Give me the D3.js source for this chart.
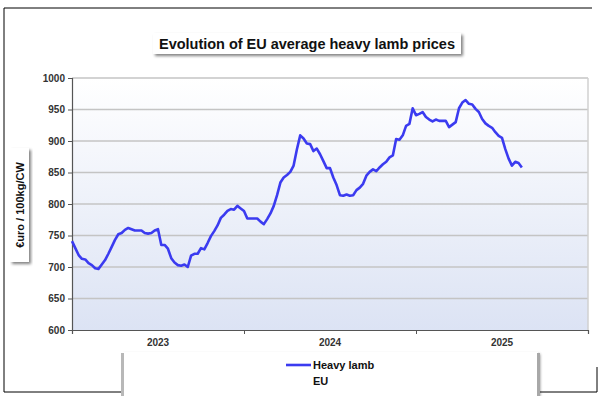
<!DOCTYPE html>
<html><head><meta charset="utf-8">
<script src="https://cdn.jsdelivr.net/npm/d3@7/dist/d3.min.js"></script>
<style>body{margin:0;background:#fff}svg{display:block;font-family:Arial,"Liberation Sans",sans-serif}</style>
</head><body>
<svg id="c" width="600" height="396"></svg>
<script>
const title = "Evolution of EU average heavy lamb prices";
const yLabel = "€uro / 100kg/CW";
const years = ["2023", "2024", "2025"];
const yTicks = [600, 650, 700, 750, 800, 850, 900, 950, 1000];
const seriesName = ["Heavy lamb", "EU"];
// weekly prices (week index from the start of the axis)
const prices = [741,730,719,713,712,706,703,698,697,704,711,721,732,743,752,754,759,762,760,758,
758,758,754,753,754,758,760,735,735,729,714,707,703,702,704,700,718,721,721,730,
728,738,749,757,766,778,783,789,792,791,797,793,789,777,777,777,777,772,768,776,
785,797,814,834,842,846,851,861,887,909,904,896,895,884,888,879,868,857,857,842,
830,814,813,815,813,814,822,826,832,845,851,855,852,858,863,867,874,877,903,902,
909,924,927,952,941,943,946,938,934,931,934,932,932,932,922,926,930,952,961,965,
959,958,951,946,935,928,924,921,914,908,905,887,872,861,867,865,858];
const weeksPerYear = 52;

const svg = d3.select("#c");
const defs = svg.append("defs");
const grad = defs.append("linearGradient").attr("id","bg").attr("x1",0).attr("y1",0).attr("x2",0).attr("y2",1);
grad.append("stop").attr("offset","0%").attr("stop-color","#ffffff");
grad.append("stop").attr("offset","100%").attr("stop-color","#dce3f4");
const sh = defs.append("filter").attr("id","sh").attr("x","-10%").attr("y","-30%").attr("width","130%").attr("height","180%");
sh.append("feGaussianBlur").attr("in","SourceAlpha").attr("stdDeviation",1.5);
sh.append("feOffset").attr("dx",2).attr("dy",2).attr("result","o");
sh.append("feComponentTransfer").append("feFuncA").attr("type","linear").attr("slope",0.5);
const m = sh.append("feMerge"); m.append("feMergeNode"); m.append("feMergeNode").attr("in","SourceGraphic");

// outer frame
svg.append("path").attr("d","M4,392V8H592").attr("fill","none").attr("stroke","#000").attr("stroke-width",1);
svg.append("path").attr("d","M4,392H597V367").attr("fill","none").attr("stroke","#000").attr("stroke-width",1);

const L = 72, R = 588, T = 78, B = 330;
const x = d3.scaleLinear().domain([0, years.length*weeksPerYear]).range([L, R]);
const xb = d3.scaleBand().domain(years).range([L, R]);
const y = d3.scaleLinear().domain([600, 1000]).range([B, T]);

svg.append("rect").attr("x",L).attr("y",T).attr("width",R-L).attr("height",B-T).attr("fill","url(#bg)");
// grid
svg.append("g").selectAll("line").data(yTicks.slice(1)).join("line")
  .attr("x1",L).attr("x2",R).attr("y1",d=>y(d)).attr("y2",d=>y(d))
  .attr("stroke","#c4c4c4").attr("stroke-width",1.5);
svg.append("line").attr("x1",R).attr("x2",R).attr("y1",T).attr("y2",B).attr("stroke","#d0d0d0").attr("stroke-width",1.5);

// y axis
const ya = svg.append("g").attr("transform",`translate(${L},0)`)
  .call(d3.axisLeft(y).tickValues(yTicks).tickFormat(d3.format("d")).tickSize(4).tickPadding(3));
ya.select(".domain").attr("stroke","#555").attr("stroke-width",1.2);
ya.selectAll(".tick line").attr("stroke","#555");
ya.selectAll("text").attr("font-size",10).attr("font-weight","bold").attr("fill","#333");

// x axis
const xa = svg.append("g").attr("transform",`translate(0,${B})`)
  .call(d3.axisBottom(x).tickValues(d3.range(0, years.length+1).map(i=>i*weeksPerYear)).tickSize(4).tickFormat(""));
xa.select(".domain").attr("stroke","#555").attr("stroke-width",1.2);
xa.selectAll(".tick line").attr("stroke","#555");
svg.append("g").selectAll("text").data(years).join("text")
  .attr("x",d=>xb(d)+xb.bandwidth()/2).attr("y",B+16).attr("text-anchor","middle")
  .attr("font-size",10).attr("font-weight","bold").attr("fill","#333").text(d=>d);

// line
svg.append("path").datum(prices)
  .attr("d", d3.line().x((d,i)=>x(i)).y(d=>y(d)))
  .attr("fill","none").attr("stroke","#3b3bf0").attr("stroke-width",2.6).attr("stroke-linejoin","round");

// title
svg.append("rect").attr("x",153).attr("y",33).attr("width",308).attr("height",21).attr("fill","#fff").attr("filter","url(#sh)");
svg.append("text").attr("x",307).attr("y",48.5).attr("text-anchor","middle")
  .attr("font-size",14.5).attr("font-weight","bold").attr("fill","#111").attr("textLength",296).text(title);

// y label
svg.append("rect").attr("x",10).attr("y",148).attr("width",19).attr("height",114).attr("fill","#fff").attr("filter","url(#sh)");
svg.append("text").attr("transform","translate(23.5,205) rotate(-90)").attr("text-anchor","middle")
  .attr("font-size",11).attr("font-weight","bold").attr("fill","#111").text(yLabel);

// legend
svg.append("rect").attr("x",122).attr("y",352).attr("width",416).attr("height",44).attr("fill","#fff").attr("filter","url(#sh)");
svg.append("rect").attr("x",121).attr("y",353).attr("width",3).attr("height",43).attr("fill","#b8b8b8");
svg.append("rect").attr("x",537).attr("y",353).attr("width",3).attr("height",43).attr("fill","#a8a8a8");
svg.append("line").attr("x1",286).attr("x2",311).attr("y1",365).attr("y2",365).attr("stroke","#3b3bf0").attr("stroke-width",2.6);
svg.append("text").attr("x",313).attr("y",369).attr("font-size",11).attr("font-weight","bold").attr("fill","#111").text(seriesName[0]);
svg.append("text").attr("x",313).attr("y",385).attr("font-size",11).attr("font-weight","bold").attr("fill","#111").text(seriesName[1]);
</script>
</body></html>
